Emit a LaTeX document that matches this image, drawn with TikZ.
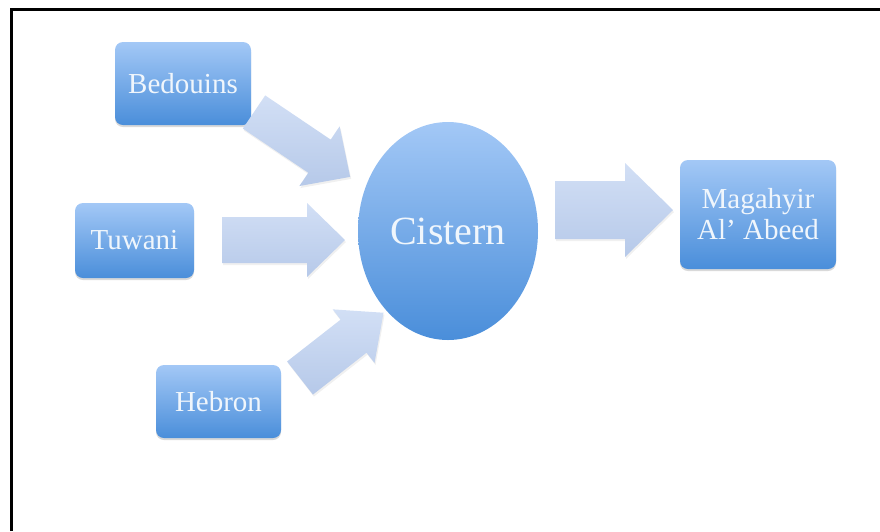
\documentclass[tikz,border=0pt]{standalone}
\usepackage{fontspec}
\setmainfont{Liberation Serif}
\usetikzlibrary{shapes.geometric,shadows}
\definecolor{boxtop}{RGB}{163,200,246}
\definecolor{boxbot}{RGB}{74,142,218}
\definecolor{arrtop}{RGB}{210,223,245}
\definecolor{arrbot}{RGB}{182,201,233}
\definecolor{txt}{RGB}{240,246,252}
\tikzset{
  place/.style={rounded corners=8pt, top color=boxtop, bottom color=boxbot,
    draw=none, text=txt, font=\fontsize{29}{31}\selectfont, align=center,
    drop shadow={shadow xshift=0pt, shadow yshift=-2pt, opacity=0.25, fill=black!60}},
  tank/.style={ellipse, top color=boxtop, bottom color=boxbot, draw=none,
    text=txt, font=\fontsize{40}{44}\selectfont},
  blockarrow/.style={top color=arrtop, bottom color=arrbot, draw=none,
    drop shadow={shadow xshift=1pt, shadow yshift=-2pt, opacity=0.12, fill=black!50}},
  frameline/.style={line width=3pt, black}
}
% #1 = tail centre, #2 = angle, #3 = length, #4 = body half, #5 = head half, #6 = head length
\newcommand\bigarrow[6]{%
  \begin{scope}[shift={#1}, rotate=#2]
    \path[blockarrow] (0,-#4) -- (#3-#6,-#4) -- (#3-#6,-#5) -- (#3,0)
      -- (#3-#6,#5) -- (#3-#6,#4) -- (0,#4) -- cycle;
  \end{scope}}
\begin{document}
\begin{tikzpicture}[x=1pt,y=-1pt]
  \useasboundingbox (0,0) rectangle (880,531);
  \draw[frameline] (11,531) -- (11,9.5) -- (880,9.5);

  \node[place, minimum width=136pt, minimum height=83pt] (bed) at (183,83.5) {Bedouins};
  \node[place, minimum width=119pt, minimum height=75pt] (tuw) at (134.5,240.5) {Tuwani};
  \node[place, minimum width=125pt, minimum height=73pt] (heb) at (218.5,401.5) {Hebron};
  \node[place, minimum width=156pt, minimum height=109pt] (mag) at (758,214.5) {Magahyir\\Al' Abeed};
  \node[tank, minimum width=180pt, minimum height=218pt, inner sep=0pt] (cis) at (448,231) {Cistern};

  \bigarrow{(254,112)}{-34}{116}{20}{36}{37}
  \bigarrow{(222,240)}{0}{123}{23}{37}{38}
  \bigarrow{(300,378)}{38}{106}{21}{34}{38}
  \bigarrow{(555,210)}{0}{118}{29}{47}{48}
\end{tikzpicture}
\end{document}
